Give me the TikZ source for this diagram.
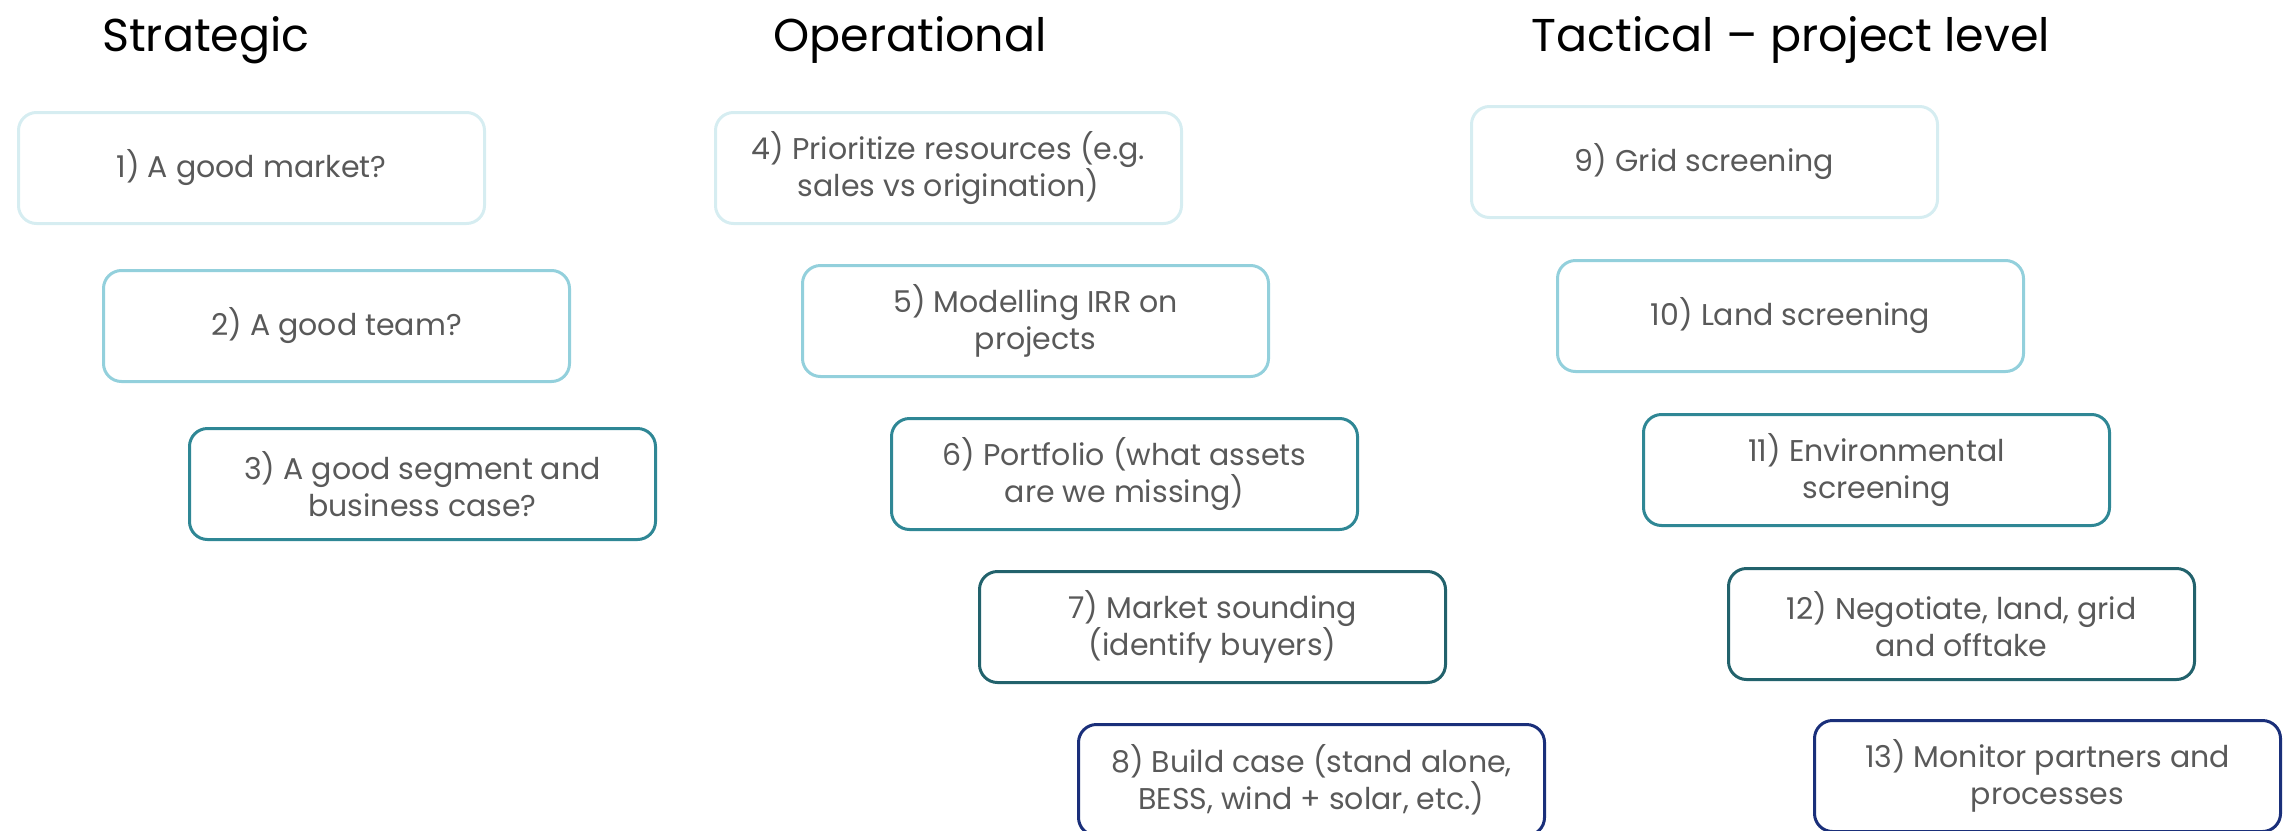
\documentclass[tikz,border=0pt]{standalone}
\usepackage{fontspec}
\setmainfont{Poppins}
\usepackage{xcolor}
\usepackage{tikz}
\usetikzlibrary{positioning}
\definecolor{lvla}{HTML}{D6EDF1}
\definecolor{lvlb}{HTML}{93D0DC}
\definecolor{lvlc}{HTML}{2F8795}
\definecolor{lvld}{HTML}{22626C}
\definecolor{lvle}{HTML}{1A2F7A}
\definecolor{txtgray}{HTML}{595959}
\tikzset{
    stepbox/.style={rectangle, rounded corners=18pt, draw=#1, line width=3pt, minimum width=466pt, minimum height=111pt, align=center, text=txtgray, font=\fontsize{30}{37}\selectfont, anchor=north west},
    heading/.style={anchor=base, font=\fontsize{46}{50}\selectfont, text=black}
}
\begin{document}
\begin{tikzpicture}[x=1pt, y=-1pt]
  \useasboundingbox (0,0) rectangle (2290,830);
  % column headings
  \node[heading] (hstrat) at (206,51) {Strategic};
  \node[heading] (hoper) at (910,51) {Operational};
  \node[heading] (htact) at (1791,51) {Tactical -- project level};
  % strategic
  \node[stepbox=lvla] (market) at (17,111) {1) A good market?};
  \node[stepbox=lvlb, below=44pt of market.south west, anchor=north west, xshift=85pt] (team) {2) A good team?};
  \node[stepbox=lvlc, below=44pt of team.south west, anchor=north west, xshift=86pt] (segment) {3) A good segment and\\business case?};
  % operational
  \node[stepbox=lvla] (prio) at (714,111) {4) Prioritize resources (e.g.\\sales vs origination)};
  \node[stepbox=lvlb, below=39pt of prio.south west, anchor=north west, xshift=87pt] (irr) {5) Modelling IRR on\\projects};
  \node[stepbox=lvlc, below=39pt of irr.south west, anchor=north west, xshift=89pt] (portf) {6) Portfolio (what assets\\are we missing)};
  \node[stepbox=lvld, below=39pt of portf.south west, anchor=north west, xshift=88pt] (sound) {7) Market sounding\\(identify buyers)};
  \node[stepbox=lvle, below=39pt of sound.south west, anchor=north west, xshift=99pt] (bcase) {8) Build case (stand alone,\\BESS, wind + solar, etc.)};
  % tactical
  \node[stepbox=lvla] (grid) at (1470,105) {9) Grid screening};
  \node[stepbox=lvlb, below=40pt of grid.south west, anchor=north west, xshift=86pt] (land) {10) Land screening};
  \node[stepbox=lvlc, below=40pt of land.south west, anchor=north west, xshift=86pt] (env) {11) Environmental\\screening};
  \node[stepbox=lvld, below=40pt of env.south west, anchor=north west, xshift=85pt] (nego) {12) Negotiate, land, grid\\and offtake};
  \node[stepbox=lvle, below=38pt of nego.south west, anchor=north west, xshift=86pt] (monit) {13) Monitor partners and\\processes};
\end{tikzpicture}
\end{document}
